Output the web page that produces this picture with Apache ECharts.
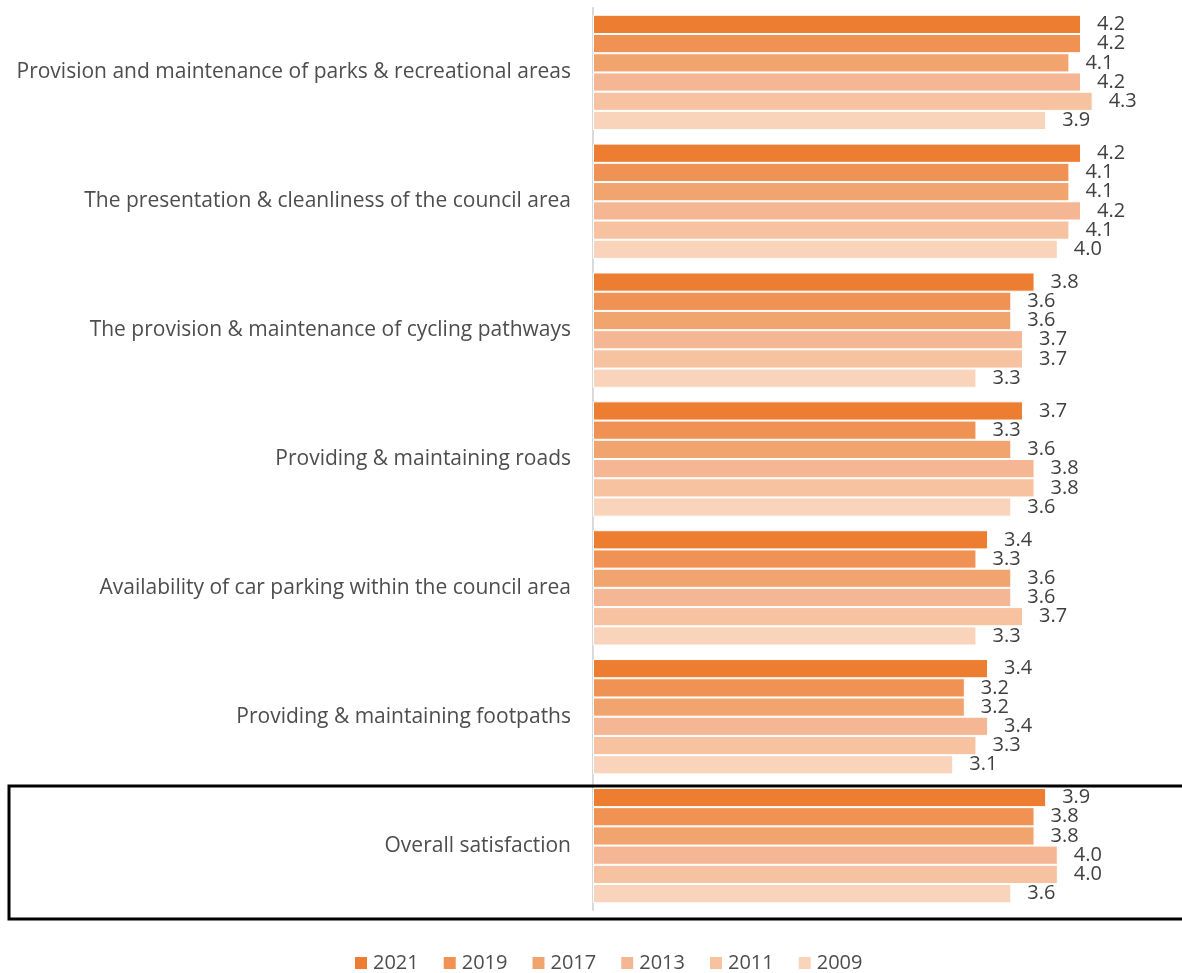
<!DOCTYPE html>
<html>
<head>
<meta charset="utf-8">
<script src="https://cdn.jsdelivr.net/npm/echarts@6/dist/echarts.min.js"></script>
<style>
  html, body { margin: 0; padding: 0; background: #fff; }
  #chart { width: 1182px; height: 973px; }
</style>
</head>
<body>
<div id="chart"></div>
<script>
// Satisfaction ratings by service area (mean score), listed top to bottom
const categories = [
  'Provision and maintenance of parks & recreational areas',
  'The presentation & cleanliness of the council area',
  'The provision & maintenance of cycling pathways',
  'Providing & maintaining roads',
  'Availability of car parking within the council area',
  'Providing & maintaining footpaths',
  'Overall satisfaction'
];
const years = ['2021', '2019', '2017', '2013', '2011', '2009'];
const v2021 = [4.2, 4.2, 3.8, 3.7, 3.4, 3.4, 3.9];
const v2019 = [4.2, 4.1, 3.6, 3.3, 3.3, 3.2, 3.8];
const v2017 = [4.1, 4.1, 3.6, 3.6, 3.6, 3.2, 3.8];
const v2013 = [4.2, 4.2, 3.7, 3.8, 3.6, 3.4, 4.0];
const v2011 = [4.3, 4.1, 3.7, 3.8, 3.7, 3.3, 4.0];
const v2009 = [3.9, 4.0, 3.3, 3.6, 3.3, 3.1, 3.6];
const yearValues = [v2021, v2019, v2017, v2013, v2011, v2009];
const colors = ['#ED7D31', '#F09253', '#F2A46F', '#F5B793', '#F6C29F', '#F9D4BB'];

const chart = echarts.init(document.getElementById('chart'), null, { renderer: 'canvas' });

const series = years.map((y, i) => ({
  name: y,
  type: 'bar',
  data: yearValues[i],
  barGap: '0%',
  barCategoryGap: '10.5%',
  itemStyle: { color: colors[i], borderColor: '#ffffff', borderWidth: 1 },
  label: {
    show: true,
    position: 'right',
    distance: 16,
    formatter: p => p.value.toFixed(1),
    color: '#404040',
    fontFamily: 'Open Sans',
    fontSize: 20
  },
  emphasis: { disabled: true },
  z: 2
}));

chart.setOption({
  animation: false,
  color: colors,
  grid: { left: 593, top: 8, height: 902, right: 8 },
  xAxis: {
    type: 'value',
    min: 0,
    max: 5,
    show: false
  },
  yAxis: {
    type: 'category',
    data: categories,
    inverse: true,
    axisLine: { show: true, lineStyle: { color: '#d9d9d9', width: 2 } },
    axisTick: { show: false },
    axisLabel: {
      margin: 22,
      color: '#4d4d4d',
      fontFamily: 'Open Sans',
      fontSize: 21
    }
  },
  legend: {
    top: 953,
    left: 353,
    padding: 0,
    itemWidth: 14,
    itemHeight: 14,
    itemGap: 23,
    icon: 'rect',
    textStyle: { color: '#4d4d4d', fontFamily: 'Open Sans', fontSize: 20 },
    data: years
  },
  graphic: [{
    type: 'rect',
    shape: { x: 9, y: 786, width: 1200, height: 133 },
    style: { fill: 'none', stroke: '#000000', lineWidth: 3 },
    z: 1
  }],
  series: series
});
</script>
</body>
</html>
